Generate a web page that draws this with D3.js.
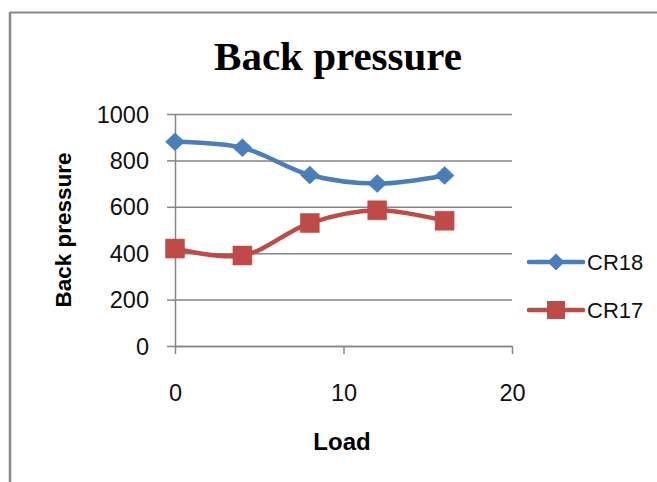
<!DOCTYPE html>
<html><head><meta charset="utf-8">
<script src="https://cdn.jsdelivr.net/npm/d3@7"></script>
<style>body{margin:0;background:#fff}svg{display:block}</style>
</head><body>
<script>
const loads = [0, 4, 8, 12, 16];
const cr18 = [880, 855, 737, 700, 735];
const cr17 = [420, 390, 530, 585, 540];
const yTicks = [0, 200, 400, 600, 800, 1000];
const xTicks = [0, 10, 20];
const seriesNames = ["CR18", "CR17"];
const seriesColors = ["#4A7EBB", "#BE4B48"];

const W = 657, H = 482;
const svg = d3.select("body").append("svg").attr("width", W).attr("height", H);

// frame
svg.append("line").attr("x1", 10).attr("x2", 657).attr("y1", 12.5).attr("y2", 12.5).attr("stroke", "#8a8a8a").attr("stroke-width", 2);
svg.append("line").attr("x1", 10).attr("x2", 10).attr("y1", 12).attr("y2", 482).attr("stroke", "#8a8a8a").attr("stroke-width", 2.5);

const x = d3.scaleLinear().domain([0, 20]).range([175, 512]);
const y = d3.scaleLinear().domain([0, 1000]).range([346, 114]);
const gray = "#868686";
const font = "'Liberation Sans', Arial, sans-serif";

// gridlines via axis
const gy = svg.append("g").attr("transform", "translate(175,0)")
  .call(d3.axisLeft(y).tickValues(yTicks).tickSize(-(512 - 175)).tickSizeOuter(0).tickPadding(0).tickFormat(""));
gy.select(".domain").remove();
gy.selectAll(".tick line").attr("stroke", gray).attr("stroke-width", 1.5);
// ticks extending left
const gy2 = svg.append("g").attr("transform", "translate(175,0)")
  .call(d3.axisLeft(y).tickValues(yTicks).tickSize(8).tickSizeOuter(0).tickFormat(d3.format("d")));
gy2.select(".domain").attr("stroke", gray).attr("stroke-width", 1.5);
gy2.selectAll(".tick line").attr("stroke", gray).attr("stroke-width", 1.5);
gy2.selectAll(".tick text").attr("font-family", font).attr("font-size", 23.5).attr("fill", "#111")
  .attr("x", -26).attr("dy", null).attr("dominant-baseline", "central");

const gx = svg.append("g").attr("transform", "translate(0,346)")
  .call(d3.axisBottom(x).tickValues(xTicks).tickSize(8).tickSizeOuter(0).tickPadding(0));
gx.select(".domain").attr("stroke", gray).attr("stroke-width", 1.5);
gx.selectAll(".tick line").attr("stroke", gray).attr("stroke-width", 1.5);
gx.selectAll(".tick text").attr("font-family", font).attr("font-size", 23.5).attr("fill", "#111").attr("y", 55).attr("dy", null);

// title
svg.append("text").attr("x", 338).attr("y", 70).attr("text-anchor", "middle")
  .attr("font-family", "'Liberation Serif', 'Times New Roman', serif").attr("font-weight", "bold").attr("font-size", 41)
  .attr("fill", "#000").text("Back pressure");
// axis titles
svg.append("text").attr("x", 342).attr("y", 450).attr("text-anchor", "middle")
  .attr("font-family", font).attr("font-weight", "bold").attr("font-size", 24).attr("fill", "#000").text("Load");
svg.append("text").attr("transform", "translate(71,230) rotate(-90)").attr("text-anchor", "middle")
  .attr("font-family", font).attr("font-weight", "bold").attr("font-size", 22.5).attr("fill", "#000").text("Back pressure");

const line = d3.line().x(d => x(d[0])).y(d => y(d[1])).curve(d3.curveCatmullRom.alpha(0.5));
const allSeries = [cr18, cr17];

allSeries.forEach((vals, i) => {
  const pts = loads.map((l, j) => [l, vals[j]]);
  svg.append("path").datum(pts).attr("d", line).attr("fill", "none")
    .attr("stroke", seriesColors[i]).attr("stroke-width", 4.5).attr("stroke-linecap", "round");
});
allSeries.forEach((vals, i) => {
  const pts = loads.map((l, j) => [l, vals[j]]);
  svg.selectAll(null).data(pts).enter().append("path")
    .attr("transform", d => `translate(${x(d[0])},${y(d[1])})`)
    .attr("d", i === 0 ? "M0,-9L9.5,0L0,9L-9.5,0Z" : "M-9.5,-9.5H9.5V9.5H-9.5Z")
    .attr("fill", seriesColors[i]).attr("stroke", seriesColors[i]).attr("stroke-width", 0.5);
});

// legend
const legY = [262, 310];
seriesNames.forEach((name, i) => {
  const g = svg.append("g").attr("transform", `translate(0,${legY[i]})`);
  g.append("line").attr("x1", 529).attr("x2", 583).attr("stroke", seriesColors[i]).attr("stroke-width", 4.5).attr("stroke-linecap", "round");
  g.append("path").attr("transform", "translate(556,0)")
    .attr("d", i === 0 ? "M0,-8.5L8.5,0L0,8.5L-8.5,0Z" : "M-9,-9H9V9H-9Z").attr("fill", seriesColors[i]);
  g.append("text").attr("x", 587).attr("y", 0).attr("dominant-baseline", "central")
    .attr("font-family", font).attr("font-size", 22).attr("fill", "#111").text(name);
});
</script>
</body></html>
